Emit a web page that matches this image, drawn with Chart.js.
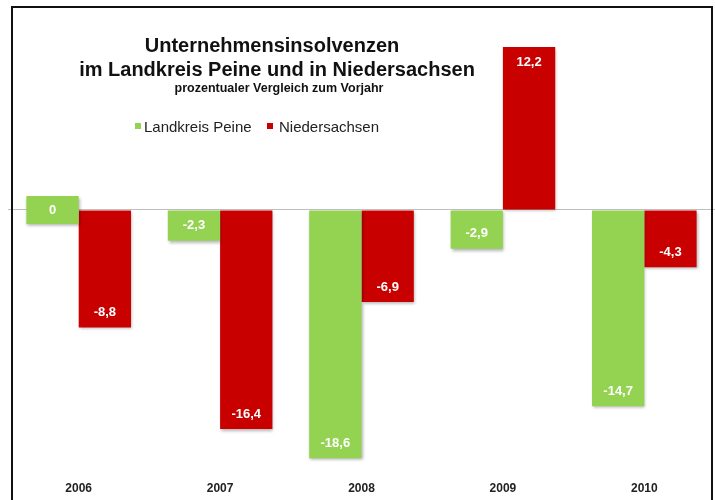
<!DOCTYPE html>
<html>
<head>
<meta charset="utf-8">
<script src="https://cdn.jsdelivr.net/npm/chart.js@4/dist/chart.umd.min.js"></script>
<style>
  html, body { margin: 0; padding: 0; background: #fff; }
  #wrap { position: relative; width: 715px; height: 500px; overflow: hidden; }
  #frame { position: absolute; left: 11px; top: 6px; width: 698px; height: 520px;
           border: 2px solid #111; pointer-events: none; }
</style>
</head>
<body>
<div id="wrap">
  <canvas id="insolvenzChart" width="715" height="500"></canvas>
  <div id="frame"></div>
</div>
<script>
const years = ['2006', '2007', '2008', '2009', '2010'];
const peine = [0, -2.3, -18.6, -2.9, -14.7];
const niedersachsen = [-8.8, -16.4, -6.9, 12.2, -4.3];
const seriesNames = ['Landkreis Peine', 'Niedersachsen'];
const seriesColors = ['#94d352', '#c80000'];

const fmt = (v) => String(v).replace('.', ',');

// title, subtitle and legend drawn over the plot like in the original
const headerPlugin = {
  id: 'header',
  afterDraw(chart) {
    const ctx = chart.ctx;
    ctx.save();
    ctx.fillStyle = '#111';
    ctx.textAlign = 'center';
    ctx.textBaseline = 'middle';
    ctx.font = 'bold 20px "Liberation Sans", Arial, sans-serif';
    ctx.fillText('Unternehmensinsolvenzen', 272, 46);
    ctx.fillText('im Landkreis Peine und in Niedersachsen', 277, 70);
    ctx.font = 'bold 12.5px "Liberation Sans", Arial, sans-serif';
    ctx.fillText('prozentualer Vergleich zum Vorjahr', 279, 89);

    ctx.textAlign = 'left';
    ctx.font = '15px "Liberation Sans", Arial, sans-serif';
    const items = [[135, 144], [267, 279]];
    items.forEach(([mx, tx], i) => {
      ctx.fillStyle = seriesColors[i];
      ctx.fillRect(mx, 123, 6, 6);
      ctx.fillStyle = '#222';
      ctx.fillText(seriesNames[i], tx, 128);
    });
    ctx.restore();
  }
};

// white value labels inside the bar ends
const valueLabels = {
  id: 'valueLabels',
  beforeDatasetsDraw(chart) {
    const ctx = chart.ctx;
    ctx.save();
    ctx.shadowColor = 'rgba(0,0,0,0.3)';
    ctx.shadowBlur = 3;
    ctx.shadowOffsetX = 1;
    ctx.shadowOffsetY = 2;
  },
  afterDatasetsDraw(chart) {
    const ctx = chart.ctx;
    ctx.restore();
    ctx.save();
    ctx.fillStyle = '#fff';
    ctx.font = 'bold 13px "Liberation Sans", Arial, sans-serif';
    ctx.textAlign = 'center';
    ctx.textBaseline = 'middle';
    chart.data.datasets.forEach((ds, i) => {
      chart.getDatasetMeta(i).data.forEach((bar, j) => {
        const top = Math.min(bar.y, bar.base);
        const bottom = Math.max(bar.y, bar.base);
        const len = bottom - top;
        let y;
        if (ds.data[j] === 0) y = (top + bottom) / 2;
        else if (ds.data[j] > 0) y = top + Math.min(15, len / 2);
        else y = bottom - Math.min(15, len / 2);
        ctx.fillText(fmt(ds.data[j]), bar.x, y);
      });
    });
    ctx.restore();
  }
};

new Chart(document.getElementById('insolvenzChart').getContext('2d'), {
  type: 'bar',
  data: {
    labels: years,
    datasets: [
      { label: seriesNames[0], data: peine, backgroundColor: seriesColors[0] },
      { label: seriesNames[1], data: niedersachsen, backgroundColor: seriesColors[1] },
    ],
  },
  options: {
    responsive: false,
    animation: false,
    layout: { padding: { left: 8, right: 0, top: 23, bottom: 0 } },
    datasets: {
      bar: { categoryPercentage: 0.74, barPercentage: 1.0, minBarLength: 28 },
    },
    plugins: {
      legend: { display: false },
      tooltip: { enabled: false },
    },
    scales: {
      x: {
        afterFit: (s) => { s.height = 23; },
        grid: { display: false, drawTicks: false },
        border: { display: false },
        ticks: {
          padding: 4,
          color: '#222',
          font: { family: '"Liberation Sans", Arial, sans-serif', size: 12, weight: 'bold' },
        },
      },
      y: {
        min: -20,
        max: 14,
        border: { display: false },
        grid: {
          drawTicks: false,
          color: (c) => (c.tick && c.tick.value === 0 ? '#bfbfbf' : 'transparent'),
        },
        ticks: { display: false, stepSize: 2 },
      },
    },
  },
  plugins: [valueLabels, headerPlugin],
});
</script>
</body>
</html>
